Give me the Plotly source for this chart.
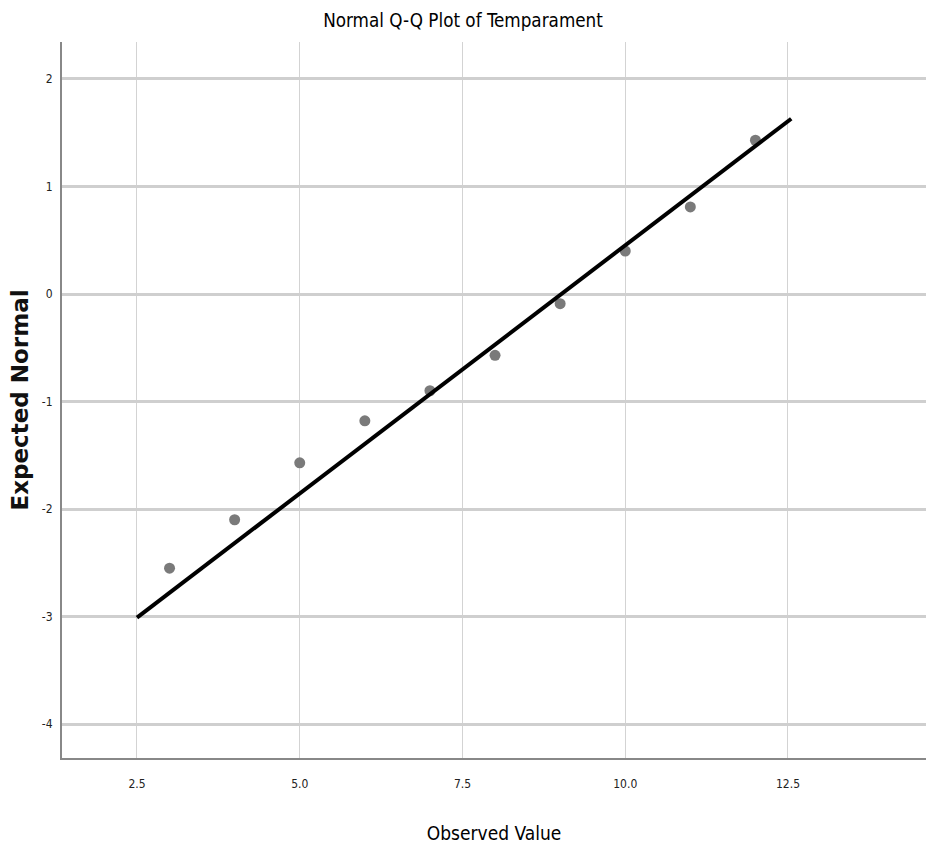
import plotly.graph_objects as go

observed = [3, 4, 5, 6, 7, 8, 9, 10, 11, 12]
expected = [-2.55, -2.10, -1.57, -1.18, -0.90, -0.57, -0.09, 0.40, 0.81, 1.43]
line_x = [2.5, 12.55]
line_y = [-3.01, 1.63]
x_ticks = [2.5, 5.0, 7.5, 10.0, 12.5]
x_labels = ["2.5", "5.0", "7.5", "10.0", "12.5"]
y_ticks = [2, 1, 0, -1, -2, -3, -4]
y_labels = ["2", "1", "0", "-1", "-2", "-3", "-4"]

narrow = "DejaVu Sans Condensed, Liberation Sans Narrow, Arial Narrow, sans-serif"

fig = go.Figure()
fig.add_trace(go.Scatter(x=observed, y=expected, mode="markers",
                         marker=dict(color="#7a7a7a", size=11, line=dict(width=0)),
                         showlegend=False, hoverinfo="skip"))
fig.add_trace(go.Scatter(x=line_x, y=line_y, mode="lines",
                         line=dict(color="#000000", width=4),
                         showlegend=False, hoverinfo="skip"))

fig.update_layout(
    width=926, height=850,
    margin=dict(l=62, r=0, t=42, b=92),
    paper_bgcolor="white", plot_bgcolor="white",
    title=dict(text="Normal Q-Q Plot of Temparament", x=0.5, xanchor="center",
               y=1 - 20 / 850, yanchor="middle",
               font=dict(family=narrow, size=18.7, color="#000000")),
    xaxis=dict(range=[1.348, 14.62], tickvals=x_ticks, ticktext=x_labels,
               showgrid=True, gridcolor="#d3d3d3", gridwidth=1,
               showline=True, linecolor="#888888", linewidth=2,
               zeroline=False, ticks="", ticklen=0, ticklabelstandoff=14,
               tickfont=dict(family=narrow, size=12, color="#222222"),
               title=dict(text="Observed Value", standoff=36,
                          font=dict(family=narrow, size=19, color="#000000"))),
    yaxis=dict(range=[-4.316, 2.344], tickvals=y_ticks, ticktext=y_labels,
               showgrid=True, gridcolor="#cfcfcf", gridwidth=2.5,
               showline=True, linecolor="#888888", linewidth=2,
               zeroline=False, ticks="", ticklen=0, ticklabelstandoff=5,
               tickfont=dict(family=narrow, size=12, color="#222222"),
               title=dict(text="<b>Expected Normal</b>", standoff=7,
                          font=dict(family="DejaVu Sans, sans-serif", size=23, color="#111111"))),
)

fig.write_html("out.html")
